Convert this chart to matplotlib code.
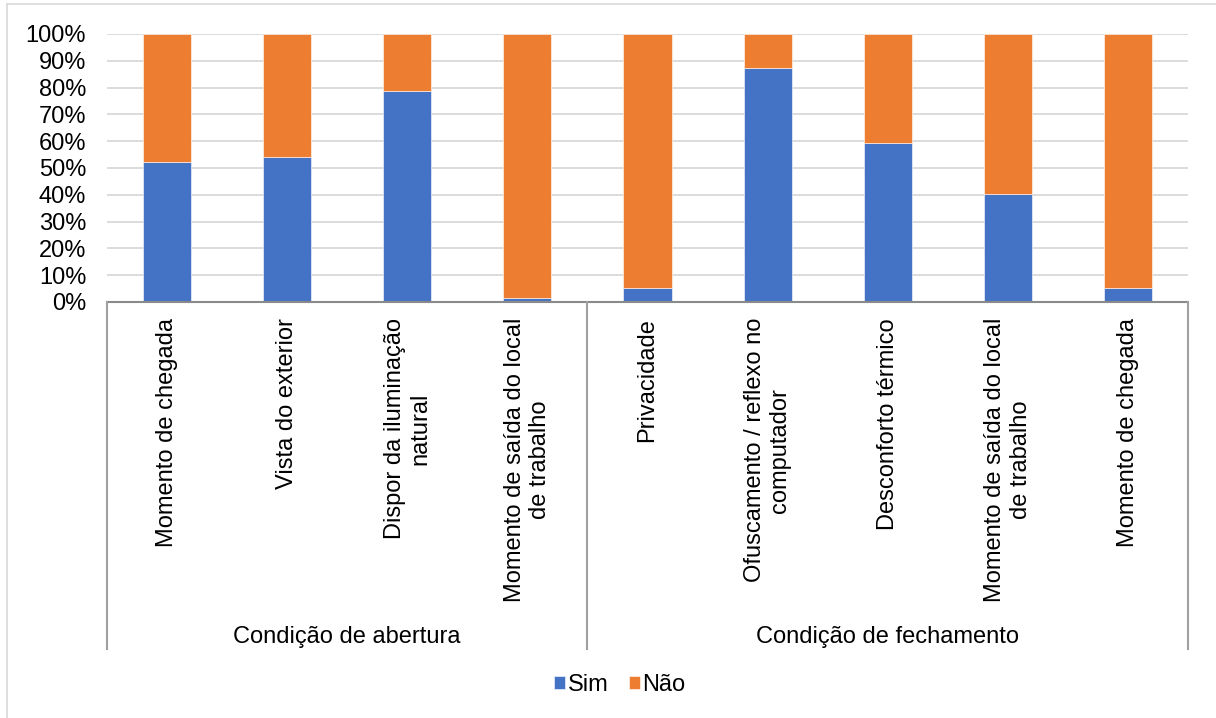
import matplotlib
matplotlib.use("Agg")
import matplotlib.pyplot as plt
from matplotlib.lines import Line2D
from matplotlib.ticker import FuncFormatter

plt.rcParams['font.family'] = ['Liberation Sans', 'DejaVu Sans']

categories = [
    "Momento de chegada",
    "Vista do exterior",
    "Dispor da iluminação\nnatural",
    "Momento de saída do local\nde trabalho",
    "Privacidade",
    "Ofuscamento / reflexo no\ncomputador",
    "Desconforto térmico",
    "Momento de saída do local\nde trabalho",
    "Momento de chegada",
]
groups = ["Condição de abertura", "Condição de fechamento"]
group_sizes = [4, 5]
sim = [52.4, 54.2, 78.9, 1.4, 5.1, 87.4, 59.4, 40.2, 5.1]
nao = [100 - v for v in sim]
series_names = ["Sim", "Não"]
colors = ["#4472C4", "#ED7D31"]
yticks = [0, 10, 20, 30, 40, 50, 60, 70, 80, 90, 100]

W, H = 1216, 718
fig = plt.figure(figsize=(W / 100, H / 100), dpi=100)

# plot area in pixels
left_px, right_px, top_px, bottom_px = 107, 1188, 34, 302
ax = fig.add_axes([left_px / W, 1 - bottom_px / H,
                   (right_px - left_px) / W, (bottom_px - top_px) / H])

x = list(range(len(categories)))
fs = 17
ax.bar(x, sim, width=0.4, color=colors[0], edgecolor='white', linewidth=0.4,
       label=series_names[0], zorder=3)
ax.bar(x, nao, width=0.4, bottom=sim, color=colors[1], edgecolor='white',
       linewidth=0.4, label=series_names[1], zorder=3)

ax.set_xlim(-0.5, len(categories) - 0.5)
ax.set_ylim(0, 100)
ax.set_yticks(yticks)
ax.yaxis.set_major_formatter(FuncFormatter(lambda v, p: f"{int(v)}%"))
ax.grid(axis='y', color='#d9d9d9', linewidth=1.3, zorder=0)
ax.set_axisbelow(True)
for s in ['left', 'right', 'top']:
    ax.spines[s].set_visible(False)
ax.spines['bottom'].set_color('#8a8a8a')
ax.spines['bottom'].set_linewidth(1.5)
ax.spines['bottom'].set_zorder(4)
ax.tick_params(axis='y', length=0, labelsize=fs, pad=15)
ax.tick_params(axis='x', length=0, labelsize=fs, pad=11.5)
ax.set_xticks(x)
ax.set_xticklabels(categories, rotation=90, ha='center', va='top')
for lab in ax.get_xticklabels():
    lab.set_multialignment('center')
    lab.set_linespacing(1.2)

# group separators and labels
line_bottom_px = 649
sep_positions = [-0.5]
acc = -0.5
for n in group_sizes:
    acc += n
    sep_positions.append(acc)
xdata_to_px = lambda xv: left_px + (xv + 0.5) / len(categories) * (right_px - left_px)
for sp in sep_positions:
    xp = xdata_to_px(sp) / W
    fig.add_artist(Line2D([xp, xp], [1 - bottom_px / H, 1 - line_bottom_px / H],
                          transform=fig.transFigure, color='#a0a0a0', linewidth=1.5))
for i, g in enumerate(groups):
    xc = (xdata_to_px(sep_positions[i]) + xdata_to_px(sep_positions[i + 1])) / 2 / W
    fig.text(xc, 1 - 637 / H, g, ha='center', va='center', fontsize=fs)

# chart-area border (only top and left visible in the image)
fig.add_artist(Line2D([7 / W, 7 / W], [0, 1 - 4 / H], transform=fig.transFigure,
                      color='#d9d9d9', linewidth=1.2))
fig.add_artist(Line2D([7 / W, 1], [1 - 4 / H, 1 - 4 / H], transform=fig.transFigure,
                      color='#d9d9d9', linewidth=1.2))

handles, labels = ax.get_legend_handles_labels()
fig.legend(handles, labels, loc='center', bbox_to_anchor=(620 / W, 1 - 685 / H),
           ncol=2, frameon=False, fontsize=fs, handlelength=0.45, handleheight=0.45,
           handletextpad=0.1, columnspacing=0.9, borderpad=0)

fig.savefig("out.png", dpi=100)
